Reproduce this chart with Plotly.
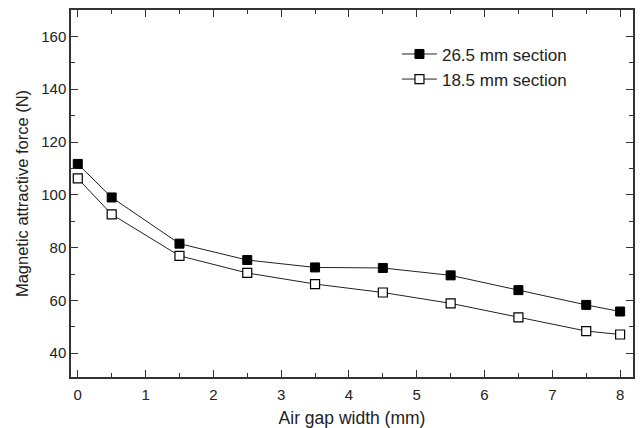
import plotly.graph_objects as go

air_gap = [0, 0.5, 1.5, 2.5, 3.5, 4.5, 5.5, 6.5, 7.5, 8]
force_265 = [111.7, 99.0, 81.5, 75.3, 72.5, 72.3, 69.5, 63.9, 58.3, 55.8]
force_185 = [106.2, 92.6, 76.9, 70.4, 66.2, 63.0, 58.9, 53.6, 48.4, 47.1]
series_names = ["26.5 mm section", "18.5 mm section"]

font_family = "Arial, Liberation Sans, sans-serif"

fig = go.Figure()
fig.add_trace(go.Scatter(
    x=air_gap, y=force_265, name=series_names[0], mode="lines+markers",
    line=dict(color="#222222", width=1),
    marker=dict(symbol="square", size=9, color="black", line=dict(color="black", width=1)),
))
fig.add_trace(go.Scatter(
    x=air_gap, y=force_185, name=series_names[1], mode="lines+markers",
    line=dict(color="#222222", width=1),
    marker=dict(symbol="square", size=9, color="white", line=dict(color="black", width=1.2)),
))

axis_common = dict(
    showline=True, linecolor="#333333", linewidth=1.5, mirror="ticks",
    ticks="inside", ticklen=7, tickwidth=1.2, tickcolor="#333333",
    showgrid=False, zeroline=False,
    tickfont=dict(family=font_family, size=15, color="#222222"),
)

fig.update_xaxes(
    range=[-0.1, 8.19], tick0=0, dtick=1,
    minor=dict(ticks="inside", ticklen=4, tickwidth=1.2, tickcolor="#333333", dtick=0.5),
    title_text="Air gap width (mm)", title_standoff=14, ticklabelstandoff=3,
    automargin=False,
    title_font=dict(family=font_family, size=17.5, color="#222222"),
    **axis_common,
)
fig.update_yaxes(
    range=[31, 170], tick0=40, dtick=20,
    minor=dict(ticks="inside", ticklen=4, tickwidth=1.2, tickcolor="#333333", dtick=10),
    title_text="Magnetic attractive force (N)", title_standoff=8,
    title_font=dict(family=font_family, size=16.5, color="#222222"),
    **axis_common,
)

fig.update_layout(
    width=641, height=428,
    margin=dict(l=71, r=6, t=10, b=51),
    plot_bgcolor="white", paper_bgcolor="white",
    font=dict(family=font_family, color="#222222"),
    legend=dict(
        x=0.58, y=0.928, xanchor="left", yanchor="top",
        bgcolor="rgba(0,0,0,0)", borderwidth=0,
        font=dict(family=font_family, size=17, color="#222222"),
        itemwidth=35, tracegroupgap=0,
    ),
)

fig.write_html("out.html")
